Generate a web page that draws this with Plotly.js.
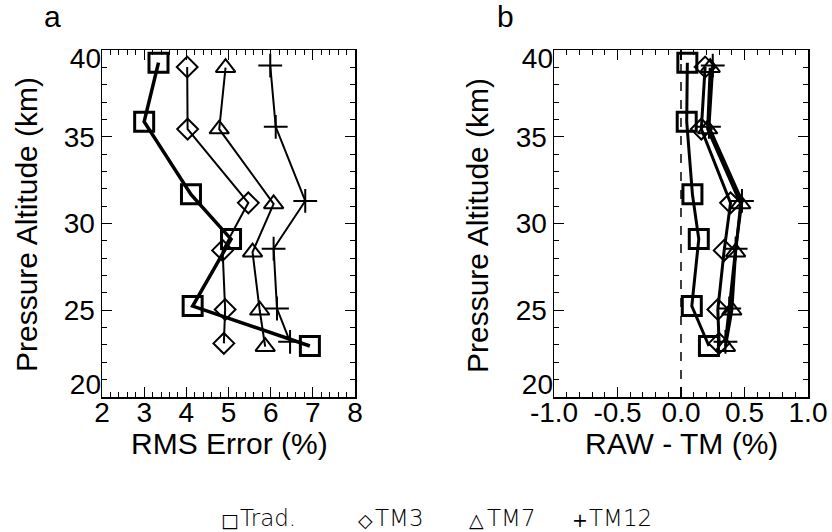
<!DOCTYPE html>
<html>
<head>
<meta charset="utf-8">
<script src="https://cdn.plot.ly/plotly-3.0.1.min.js"></script>
<style>html,body{margin:0;padding:0;background:#fff}#chart{width:832px;height:532px}</style>
</head>
<body>
<div id="chart"></div>
<script>
// ---- Data ----
const seriesNames = ["Trad.", "TM3", "TM7", "TM12"];
const legendSymbols = ["\u25A1", "\u25C7", "\u25B3", "+"];

// Panel a: RMS Error (%) vs Pressure Altitude (km)
const tradAlt  = [39.27, 35.87, 31.68, 29.10, 25.24, 22.94];
const tradRms  = [3.34, 3.00, 4.11, 5.06, 4.15, 6.93];
const tm3Alt   = [39.02, 35.44, 31.19, 28.45, 25.04, 23.09];
const tm3Rms   = [4.02, 4.03, 5.47, 4.86, 4.92, 4.89];
const tm7Alt   = [38.98, 35.44, 31.13, 28.35, 25.00, 22.90];
const tm7Rms   = [4.93, 4.78, 6.07, 5.57, 5.74, 5.87];
const tm12Alt  = [39.10, 35.57, 31.30, 28.55, 25.10, 23.18];
const tm12Rms  = [5.99, 6.12, 6.82, 6.07, 6.15, 6.46];

// Panel b: RAW - TM (%)
const tradDiff = [0.05, 0.045, 0.09, 0.14, 0.085, 0.22];
const tm3Diff  = [0.19, 0.16, 0.39, 0.34, 0.29, 0.30];
const tm7Diff  = [0.23, 0.21, 0.47, 0.43, 0.40, 0.35];
const tm12Diff = [0.25, 0.22, 0.48, 0.43, 0.38, 0.35];

const xTicksA = [2, 3, 4, 5, 6, 7, 8];
const xTicksB = [-1.0, -0.5, 0.0, 0.5, 1.0];
const xTickTextB = ["-1.0", "-0.5", "0.0", "0.5", "1.0"];
const yTicks = [20, 25, 30, 35, 40];
const yTickText = ["", "25", "30", "35", ""];
const yTitle = "Pressure Altitude (km)";
const xTitleA = "RMS Error (%)";
const xTitleB = "RAW - TM (%)";

// ---- Styles ----
const W = 832, H = 532;
const px = v => v / W;
const py = v => 1 - v / H;
const FONT = "Liberation Sans, Arial, Helvetica, sans-serif";
const TICK_SIZE = 28, TITLE_SIZE = 30;

const styles = [
  {symbol: "square-open", size: 19, mlw: 3, lw: 3.5},
  {symbol: "diamond-open", size: 16, mlw: 2, lw: 2},
  {symbol: "triangle-up-open", size: 17, mlw: 2, lw: 2},
  {symbol: "cross-thin-open", size: 17, mlw: 2, lw: 2}
];

const altA = [tradAlt, tm3Alt, tm7Alt, tm12Alt];
const valA = [tradRms, tm3Rms, tm7Rms, tm12Rms];
const valB = [tradDiff, tm3Diff, tm7Diff, tm12Diff];

const traces = [];
for (let i = 0; i < 4; i++) {
  traces.push({
    x: valA[i], y: altA[i], xaxis: "x", yaxis: "y", type: "scatter", mode: "lines+markers",
    name: seriesNames[i], showlegend: false, cliponaxis: false,
    line: {color: "#000", width: styles[i].lw},
    marker: {symbol: styles[i].symbol, size: styles[i].size, color: "#000",
             line: {color: "#000", width: styles[i].mlw}}
  });
}
for (let i = 0; i < 4; i++) {
  traces.push({
    x: valB[i], y: altA[i], xaxis: "x2", yaxis: "y2", type: "scatter", mode: "lines+markers",
    name: seriesNames[i], showlegend: false, cliponaxis: false,
    line: {color: "#000", width: 3},
    marker: {symbol: styles[i].symbol, size: styles[i].size, color: "#000",
             line: {color: "#000", width: styles[i].mlw}}
  });
}
// empty helper traces so the label-only overlay axes are created
[["x", "y3"], ["x", "y4"], ["x2", "y5"], ["x2", "y6"]].forEach(p => traces.push({
  x: [], y: [], xaxis: p[0], yaxis: p[1], type: "scatter", mode: "markers",
  showlegend: false, hoverinfo: "skip"
}));

const tickFont = {family: FONT, size: TICK_SIZE, color: "#000"};
const axisCommon = {
  showgrid: false, zeroline: false, showline: true, linecolor: "#000", linewidth: 1.5,
  mirror: "ticks", ticks: "inside", ticklen: 10, tickwidth: 1.2, tickcolor: "#000",
  tickfont: tickFont
};
const yDomain = [py(397), py(50)];

const yAxis = (anchor) => Object.assign({}, axisCommon, {
  domain: yDomain, anchor: anchor, range: [20, 40], tickmode: "array",
  tickvals: yTicks, ticktext: yTickText,
  minor: {dtick: 1, ticks: "inside", ticklen: 5, tickcolor: "#000", tickwidth: 1}
});
// label-only overlay axes so the end labels sit inside the axis span, as in the reference
const yLabelAxis = (anchor, overlay, val, txt, shift) => ({
  domain: yDomain, anchor: anchor, overlaying: overlay, side: "left", range: [20, 40],
  showgrid: false, zeroline: false, showline: false, ticks: "",
  tickmode: "array", tickvals: [val], ticktext: [txt], ticklabelshift: shift,
  tickfont: tickFont
});

const layout = {
  width: W, height: H,
  margin: {l: 0, r: 0, t: 0, b: 0},
  paper_bgcolor: "#fff", plot_bgcolor: "#fff",
  showlegend: false,
  xaxis: Object.assign({}, axisCommon, {
    domain: [px(102), px(355)], anchor: "y", range: [2, 8], tickmode: "array", tickvals: xTicksA,
    ticklabelstandoff: -10,
    minor: {dtick: 0.2, ticks: "inside", ticklen: 5, tickcolor: "#000", tickwidth: 1}
  }),
  yaxis: yAxis("x"),
  yaxis3: yLabelAxis("x", "y", 20, "20", -13),
  yaxis4: yLabelAxis("x", "y", 40, "40", 8),
  xaxis2: Object.assign({}, axisCommon, {
    domain: [px(554), px(808)], anchor: "y2", range: [-1, 1], tickmode: "array",
    tickvals: xTicksB, ticktext: xTickTextB, ticklabelstandoff: -10,
    minor: {dtick: 0.1, ticks: "inside", ticklen: 5, tickcolor: "#000", tickwidth: 1}
  }),
  yaxis2: yAxis("x2"),
  yaxis5: yLabelAxis("x2", "y2", 20, "20", -13),
  yaxis6: yLabelAxis("x2", "y2", 40, "40", 8),
  shapes: [{type: "line", xref: "x2", yref: "y2", x0: 0, x1: 0, y0: 20, y1: 40,
            line: {color: "#000", width: 1.5, dash: "dash"}}],
  annotations: []
};

const titleFont = {family: FONT, size: TITLE_SIZE, color: "#000"};
const addText = (text, x, y, font, extra) => layout.annotations.push(Object.assign({
  text: text, xref: "paper", yref: "paper", x: px(x), y: py(y),
  xanchor: "center", yanchor: "middle", showarrow: false, font: font
}, extra || {}));

addText("a", 52, 16, titleFont);
addText("b", 506, 16, titleFont);
addText(yTitle, 27, 225, titleFont, {textangle: -90});
addText(yTitle, 478, 225, titleFont, {textangle: -90});
addText(xTitleA, 229, 443, titleFont);
addText(xTitleB, 681, 443, titleFont);

// Legend row at the bottom
const legSymX = [219, 356, 467, 570];
const legTxtX = [238, 373, 485, 587];
const legSymFont = {family: "DejaVu Sans", size: 19, color: "#000"};
const legTxtFont = {family: "DejaVu Sans", size: 23, weight: 200, color: "#000"};
for (let i = 0; i < 4; i++) {
  addText(legendSymbols[i], legSymX[i], 520, legSymFont, {xanchor: "left"});
  addText(seriesNames[i], legTxtX[i], 518, legTxtFont, {xanchor: "left"});
}

Plotly.newPlot("chart", traces, layout, {staticPlot: true, displayModeBar: false});
</script>
</body>
</html>
